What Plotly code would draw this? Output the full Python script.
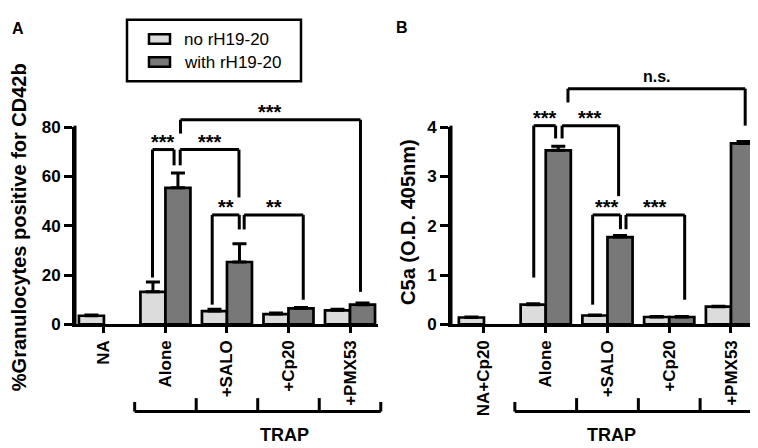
import plotly.graph_objects as go

# panel A: % granulocytes positive for CD42b
cats_a = ["NA", "Alone", "+SALO", "+Cp20", "+PMX53"]
no_a = [3.5, 13.2, 5.4, 4.2, 5.7]
no_a_err = [0.3, 4.0, 0.7, 0.4, 0.4]
with_a = [None, 55.4, 25.3, 6.5, 8.0]
with_a_err = [0, 6.0, 7.4, 0.3, 0.7]

# panel B: C5a (O.D. 405nm)
cats_b = ["NA+Cp20", "Alone", "+SALO", "+Cp20", "+PMX53"]
no_b = [0.14, 0.40, 0.18, 0.15, 0.36]
no_b_err = [0.01, 0.02, 0.01, 0.01, 0.01]
with_b = [None, 3.53, 1.77, 0.15, 3.67]
with_b_err = [0, 0.08, 0.03, 0.01, 0.04]

series_names = ["no rH19-20", "with rH19-20"]
light = "#dcdcdc"
dark = "#787878"

# significance brackets: x left, x right, top y, left leg end, right leg end, label
sig_a = [
    (0.79, 1.14, 70.9, 19.0, 64.5, "***"),
    (1.24, 2.195, 70.9, 64.5, 51.5, "***"),
    (1.76, 2.2, 44.4, 8.0, 38.5, "**"),
    (2.28, 3.24, 44.4, 38.5, 10.0, "**"),
    (1.245, 4.17, 83.0, 77.4, 13.2, "***"),
]
sig_b = [
    (0.806, 1.16, 4.03, 0.95, 3.77, "***"),
    (1.265, 2.18, 4.03, 3.77, 2.6, "***"),
    (1.76, 2.21, 2.22, 0.40, 1.93, "***"),
    (2.30, 3.25, 2.22, 1.93, 0.5, "***"),
    (1.36, 4.23, 4.78, 4.5, 4.03, "n.s."),
]

W, H = 758, 448
FONT = "Liberation Sans, Arial, sans-serif"

xdom_a = [67 / W, 370 / W]
xdom_b = [443 / W, 753 / W]
xr_a = [-0.47, 4.455]
xr_b = [-0.534, 4.486]
ydom = [1 - 321 / H, 1 - 115 / H]
yr_a = [0, 80]
yr_b = [0, 4]


def cat_to_paper(c, dom, rng):
    return dom[0] + (c - rng[0]) / (rng[1] - rng[0]) * (dom[1] - dom[0])


def val_to_paper(v, rng):
    # brackets go above the top tick, so place them in paper units
    return ydom[0] + (v - rng[0]) / (rng[1] - rng[0]) * (ydom[1] - ydom[0])


fig = go.Figure()

for cats, no, no_e, wi, wi_e, xa, ya in [
    (cats_a, no_a, no_a_err, with_a, with_a_err, "x", "y"),
    (cats_b, no_b, no_b_err, with_b, with_b_err, "x2", "y2"),
]:
    fig.add_trace(go.Bar(
        x=cats, y=no, name=series_names[0], xaxis=xa, yaxis=ya,
        marker=dict(color=light, line=dict(color="black", width=2.7)),
        error_y=dict(type="data", array=no_e, arrayminus=[0] * len(no_e),
                     symmetric=False, color="black", thickness=3, width=7),
        showlegend=False,
    ))
    fig.add_trace(go.Bar(
        x=cats, y=wi, name=series_names[1], xaxis=xa, yaxis=ya,
        marker=dict(color=dark, line=dict(color="black", width=2.7)),
        error_y=dict(type="data", array=wi_e, arrayminus=[0] * len(wi_e),
                     symmetric=False, color="black", thickness=3, width=7),
        showlegend=False,
    ))

shapes = []
annos = []

# significance brackets
for sig, xa, rng in [(sig_a, "x", yr_a), (sig_b, "x2", yr_b)]:
    for x0, x1, yt, yl, yr, lab in sig:
        ln = dict(color="black", width=3)
        pt, pl, pr = val_to_paper(yt, rng), val_to_paper(yl, rng), val_to_paper(yr, rng)
        shapes.append(dict(type="line", xref=xa, yref="paper", x0=x0, x1=x0, y0=pl, y1=pt, line=ln))
        shapes.append(dict(type="line", xref=xa, yref="paper", x0=x0, x1=x1, y0=pt, y1=pt, line=ln))
        shapes.append(dict(type="line", xref=xa, yref="paper", x0=x1, x1=x1, y0=pt, y1=pr, line=ln))
        star = lab != "n.s."
        annos.append(dict(
            xref=xa, yref="paper", x=(x0 + x1) / 2, y=pt, text=lab, showarrow=False,
            yanchor="bottom", yshift=-5 if star else 2,
            font=dict(family=FONT, size=20 if star else 16, color="black", weight="bold"),
        ))

# y axis lines as thin filled rectangles (backup for the axis line)
for dom in [xdom_a, xdom_b]:
    shapes.append(dict(type="rect", xref="paper", yref="paper",
                       x0=dom[0] - 1.5 / W, x1=dom[0] + 1.5 / W,
                       y0=ydom[0] - 1.5 / H, y1=ydom[1] + 1.5 / H,
                       fillcolor="black", line=dict(width=0)))

# TRAP group brackets under the tick labels
for dom, rng in [(xdom_a, xr_a), (xdom_b, xr_b)]:
    yb = 1 - 412 / H
    x_lo = cat_to_paper(0.5, dom, rng)
    x_hi = cat_to_paper(4.5, dom, rng)
    shapes.append(dict(type="line", xref="paper", yref="paper", x0=x_lo, x1=x_hi,
                       y0=yb, y1=yb, line=dict(color="black", width=3)))
    for c in [0.5, 1.5, 2.5, 3.5, 4.5]:
        xp = cat_to_paper(c, dom, rng)
        top = 1 - (402 / H if c in (0.5, 4.5) else 398 / H)
        shapes.append(dict(type="line", xref="paper", yref="paper", x0=xp, x1=xp,
                           y0=yb, y1=top, line=dict(color="black", width=3)))
    annos.append(dict(xref="paper", yref="paper", x=cat_to_paper(2.5, dom, rng),
                      y=1 - 437 / H, text="TRAP", showarrow=False, yanchor="middle",
                      font=dict(family=FONT, size=18, color="black", weight="bold")))

# axis titles
annos.append(dict(xref="paper", yref="paper", x=10.5 / W, y=1 - 220 / H,
                  text="%Granulocytes positive for CD42b", textangle=-90, showarrow=False,
                  xanchor="center", yanchor="middle",
                  font=dict(family=FONT, size=20, color="black", weight="bold")))
annos.append(dict(xref="paper", yref="paper", x=400 / W, y=1 - 214 / H,
                  text="C5a (O.D. 405nm)", textangle=-90, showarrow=False,
                  xanchor="center", yanchor="middle",
                  font=dict(family=FONT, size=20, color="black", weight="bold")))

# panel letters
annos.append(dict(xref="paper", yref="paper", x=2 / W, y=1 - 12 / H, text="A",
                  showarrow=False, xanchor="left", yanchor="middle",
                  font=dict(family=FONT, size=16, color="black", weight="bold")))
annos.append(dict(xref="paper", yref="paper", x=386 / W, y=1 - 11 / H, text="B",
                  showarrow=False, xanchor="left", yanchor="middle",
                  font=dict(family=FONT, size=16, color="black", weight="bold")))

# legend box drawn by hand
shapes.append(dict(type="rect", xref="paper", yref="paper", x0=119 / W, x1=293 / W,
                   y0=1 - 67 / H, y1=1 - 3 / H, line=dict(color="black", width=2.5)))
for i, (nm, col) in enumerate(zip(series_names, [light, dark])):
    yc = 23 + 24 * i
    shapes.append(dict(type="rect", xref="paper", yref="paper", x0=141 / W, x1=162 / W,
                       y0=1 - (yc + 5) / H, y1=1 - (yc - 5) / H, fillcolor=col,
                       line=dict(color="black", width=2.5)))
    annos.append(dict(xref="paper", yref="paper", x=174 / W, y=1 - yc / H, text=nm,
                      showarrow=False, xanchor="left", yanchor="middle",
                      font=dict(family=FONT, size=17, color="black")))

xcommon = dict(type="category", showline=True, linewidth=3, linecolor="black",
               ticks="outside", ticklen=6, tickwidth=3, tickcolor="black",
               tickangle=-90, showgrid=False,
               tickfont=dict(family=FONT, size=17, color="black", weight="bold"))
ycommon = dict(showline=True, linewidth=3, linecolor="black",
               ticks="outside", ticklen=8, tickwidth=3, tickcolor="black",
               showgrid=False, domain=ydom,
               tickfont=dict(family=FONT, size=17, color="black", weight="bold"))

fig.update_layout(
    width=W, height=H,
    margin=dict(l=0, r=0, t=0, b=0),
    paper_bgcolor="white", plot_bgcolor="white",
    barmode="group", bargap=0.187, bargroupgap=0,
    xaxis=dict(xcommon, domain=xdom_a, range=xr_a, anchor="y",
               categoryorder="array", categoryarray=cats_a),
    xaxis2=dict(xcommon, domain=xdom_b, range=xr_b, anchor="y2",
                categoryorder="array", categoryarray=cats_b),
    yaxis=dict(ycommon, range=yr_a, tickvals=[0, 20, 40, 60, 80], anchor="x"),
    yaxis2=dict(ycommon, range=yr_b, tickvals=[0, 1, 2, 3, 4], anchor="x2"),
    shapes=shapes,
    annotations=annos,
)

fig.write_html("out.html")
